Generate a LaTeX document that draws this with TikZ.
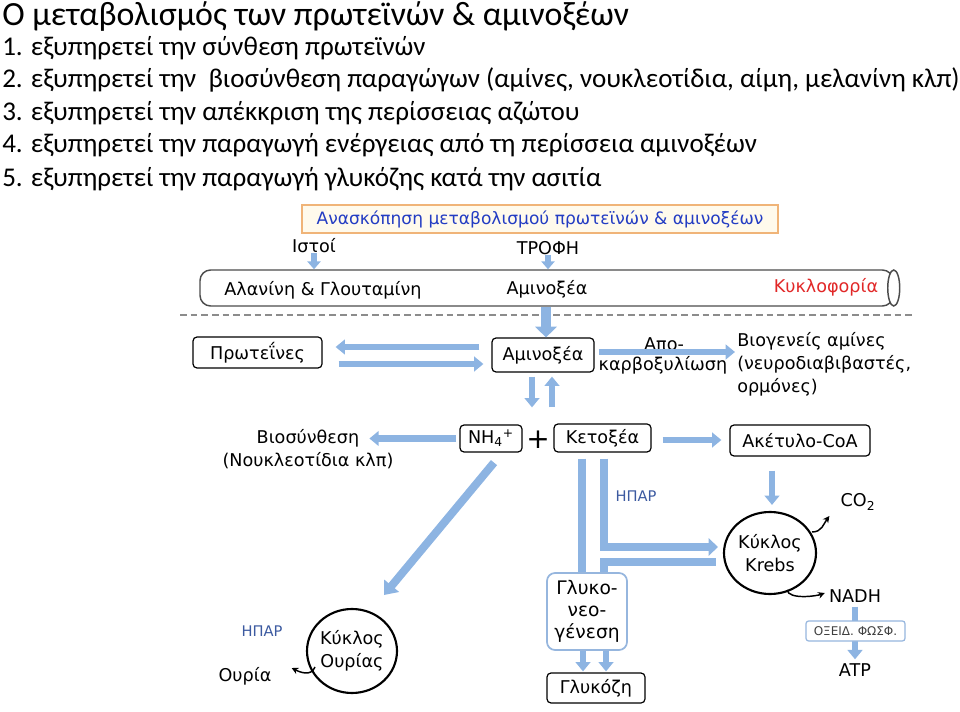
\documentclass[tikz,border=0pt]{standalone}
\usepackage{fontspec}
\setmainfont{Carlito}
\newfontfamily\dg{DejaVu Sans}
\usetikzlibrary{arrows.meta,shapes.geometric,calc}
\definecolor{ablue}{RGB}{141,180,226}
\definecolor{gblue}{RGB}{150,182,222}
\definecolor{tblue}{RGB}{35,60,195}
\definecolor{hblue}{RGB}{60,90,160}
\definecolor{kred}{RGB}{225,40,40}
\definecolor{tborder}{RGB}{240,180,120}
\definecolor{tfill}{RGB}{255,250,236}
\begin{document}
\begin{tikzpicture}[x=0.75pt,y=-0.75pt,
  dfont/.style={font=\dg\fontsize{13.2}{17.25}\selectfont},
  box/.style={draw=black,line width=0.9pt,rounded corners=3pt,fill=white,dfont,inner sep=0pt},
  gbox/.style={draw=gblue,line width=1.3pt,rounded corners=6pt,fill=white,dfont,inner sep=0pt,align=center},
  obox/.style={draw=gblue,line width=0.9pt,rounded corners=2pt,fill=white,inner sep=0pt,font=\dg\fontsize{9}{10}\selectfont,text=black!75},
  titlebox/.style={draw=tborder,line width=0.9pt,fill=tfill,inner sep=0pt,dfont,text=tblue},
  circ/.style={draw=black,line width=1.6pt,ellipse,inner sep=0pt,dfont,align=center},
  lbl/.style={dfont,inner sep=0pt},
  hpar/.style={font=\dg\fontsize{11}{12}\selectfont,text=hblue,inner sep=0pt},
  tubebox/.style={draw=black!70,line width=1.1pt,rounded corners=8pt,inner sep=0pt},
  fat/.style={draw=ablue,line width=5pt,-{Triangle[width=11pt,length=7pt]}},
  fatS/.style={draw=ablue,line width=4.5pt,-{Triangle[width=10pt,length=6pt]}},
  fatB/.style={draw=ablue,line width=7.5pt,-{Triangle[width=16pt,length=8pt]}},
  bar/.style={draw=ablue,line width=6pt},
  curv/.style={draw=black,line width=1.1pt,-{Stealth[length=5pt,width=5pt]}},
  hdr/.style={anchor=base west,inner sep=0pt,font=\fontsize{20.3}{24}\selectfont}
]
\useasboundingbox (0,0) rectangle (960,712);

% header text
\node[hdr,font=\fontsize{25.4}{28}\selectfont] (h0) at (2,26) {Ο μεταβολισμός των πρωτεϊνών \& αμινοξέων};
\node[hdr] (h1) at (2,56) {1. εξυπηρετεί την σύνθεση πρωτεϊνών};
\node[hdr] (h2) at (2,88) {2. εξυπηρετεί την \ βιοσύνθεση παραγώγων (αμίνες, νουκλεοτίδια, αίμη, μελανίνη κλπ)};
\node[hdr] (h3) at (2,121) {3. εξυπηρετεί την απέκκριση της περίσσειας αζώτου};
\node[hdr] (h4) at (2,153) {4. εξυπηρετεί την παραγωγή ενέργειας από τη περίσσεια αμινοξέων};
\node[hdr] (h5) at (2,187) {5. εξυπηρετεί την παραγωγή γλυκόζης κατά την ασιτία};

% title box
\node[titlebox,minimum width=357pt,minimum height=21pt,font=\dg\fontsize{12.8}{15}\selectfont] (title) at (540,219) {Ανασκόπηση μεταβολισμού πρωτεϊνών \& αμινοξέων};

% tube
\node[tubebox,minimum width=519.75pt,minimum height=27pt] (tube) at (546.5,288) {};
\draw[draw=black!70,line width=1.1pt,fill=white] (tube.east) ellipse [x radius=4.5pt,y radius=13.5pt];
\node[lbl] (istoi) at (314,246) {Ιστοί};
\node[lbl] (trofi) at (548,248) {ΤΡΟΦΗ};
\node[lbl] (alan) at (323,290) {Αλανίνη \& Γλουταμίνη};
\node[lbl] (aminotube) at (547,289) {Αμινοξέα};
\node[lbl,text=kred] (kykl) at (826,287) {Κυκλοφορία};

% dashed line
\coordinate (dl) at (180,315);
\coordinate (dr) at (915,315);
\draw[draw=black!45,line width=1.1pt,dash pattern=on 5pt off 3pt] (dl) -- (dr);

% boxes
\node[box,minimum width=96.75pt,minimum height=23.25pt] (prot) at (257.5,352.5) {Πρωτεΐνες};
\node[box,minimum width=76.5pt,minimum height=25.5pt] (amino) at (543,355) {Αμινοξέα};
\node[box,minimum width=46.5pt,minimum height=20.25pt] (nh4) at (491,438.5) {NH\textsubscript{4}\textsuperscript{+}};
\node[box,minimum width=72.75pt,minimum height=21pt] (keto) at (602.5,438) {Κετοξέα};
\node[box,minimum width=105pt,minimum height=23.25pt] (acetyl) at (800,440.5) {Ακέτυλο-CoA};
\node[box,minimum width=73.5pt,minimum height=22.5pt] (glucose) at (596,688) {Γλυκόζη};
\node[circ,minimum width=69pt,minimum height=61.5pt] (krebs) at (770,553) {Κύκλος\\Krebs};
\node[circ,minimum width=67.5pt,minimum height=63pt] (urea) at (352,651) {Κύκλος\\Ουρίας};

% labels
\node[lbl] (apo) at (664,344) {Απο-};
\node[lbl] (karb) at (663,365) {καρβοξυλίωση};
\node[lbl,anchor=west,align=left] (biogen) at (737,364) {Βιογενείς αμίνες\\(νευροδιαβιβαστές,\\ορμόνες)};
\node[lbl,align=center] (biosyn) at (308,449.5) {Βιοσύνθεση\\(Νουκλεοτίδια κλπ)};
\node[lbl,font=\dg\fontsize{21}{22}\selectfont] (plus) at (538,440) {+};
\node[hpar] (hpar1) at (636,496) {ΗΠΑΡ};
\node[hpar] (hpar2) at (262,631) {ΗΠΑΡ};
\node[lbl] (co2) at (858,502) {CO\textsubscript{2}};
\node[lbl] (nadh) at (855,596) {NADH};
\node[lbl] (atp) at (855,670) {ATP};
\node[lbl] (ouria) at (245,676) {Ουρία};

% blue arrows
\draw[fatS] (istoi.south) -- (istoi.south |- tube.north);
\draw[fatS] (trofi.south) -- (trofi.south |- tube.north);
\draw[fatB] ($(amino.north |- tube.south)+(3,0)$) -- ($(amino.north)+(3,0)$);
\draw[fat] ($(amino.west)+(-12,-8)$) -- ($(prot.east |- amino.west)+(13,-8)$);
\draw[fat] ($(prot.east |- amino.west)+(16,9)$) -- ($(amino.west)+(-8,9)$);
\draw[fat] ($(amino.east)+(4,-3)$) -- ($(biogen.west |- amino.east)+(-2,-3)$);
\draw[fat] ($(amino.south)+(-11,4)$) -- ($(amino.south |- nh4.north)+(-11,-17)$);
\draw[fat] ($(amino.south |- nh4.north)+(9,-17)$) -- ($(amino.south)+(9,4)$);
\draw[fat] ($(nh4.west)+(-3,0)$) -- ($(nh4.west)+(-90,0)$);
\draw[fat] ($(keto.east)+(11,2)$) -- ($(acetyl.west |- keto.east)+(-8,2)$);
\draw[fat] ($(acetyl.south)+(-28,14)$) -- ($(acetyl.south |- krebs.north)+(-28,-6)$);
\draw[fat,line width=6pt,-{Triangle[width=14pt,length=9pt]}] ($(nh4.south)+(3,10)$) -- ($(urea.center)+(32,-56)$);
\draw[bar] ($(keto.south)+(-21,6)$) -- ($(keto.south |- 0,573)+(-21,0)$);
\draw[fat,line width=6pt,-{Triangle[width=13pt,length=7pt]},line join=miter] ($(keto.south)+(1.5,6)$) |- ($(krebs.west)+(-5,-6)$);
\draw[bar,line join=miter] ($(krebs.west)+(-7,9)$) -| ($(keto.south |- 0,573)+(1.5,0)$);

% gluconeogenesis box (on top of bars)
\node[gbox,minimum width=60pt,minimum height=57.75pt,font=\dg\fontsize{14}{16.5}\selectfont] (gluconeo) at (587,611.5) {Γλυκο-\\νεο-\\γένεση};
\draw[fat] ($(gluconeo.south)+(-4,0)$) -- ($(gluconeo.south |- glucose.north)+(-4,-1)$);
\draw[fat] ($(gluconeo.south)+(19,0)$) -- ($(gluconeo.south |- glucose.north)+(19,-1)$);

% NADH -> ATP
\draw[fat] ($(nadh.south)+(0,4)$) -- ($(atp.north)+(0,-4)$);
\node[obox,minimum width=74.25pt,minimum height=15pt] (oxphos) at (855.5,631) {ΟΞΕΙΔ. ΦΩΣΦ.};

% black curved arrows
\draw[curv] ($(krebs.center)+(42,-21)$) .. controls +(10,0) and +(-6,8) .. ($(co2.west)+(-11,14)$);
\draw[curv] ($(krebs.center)+(17,37)$) .. controls +(2,10) and +(-8,3) .. ($(nadh.west)+(-4,-3)$);
\draw[curv] ($(urea.center)+(-37,16)$) .. controls +(-4,10) and +(8,4) .. ($(ouria.east)+(20,-8)$);
\end{tikzpicture}
\end{document}
